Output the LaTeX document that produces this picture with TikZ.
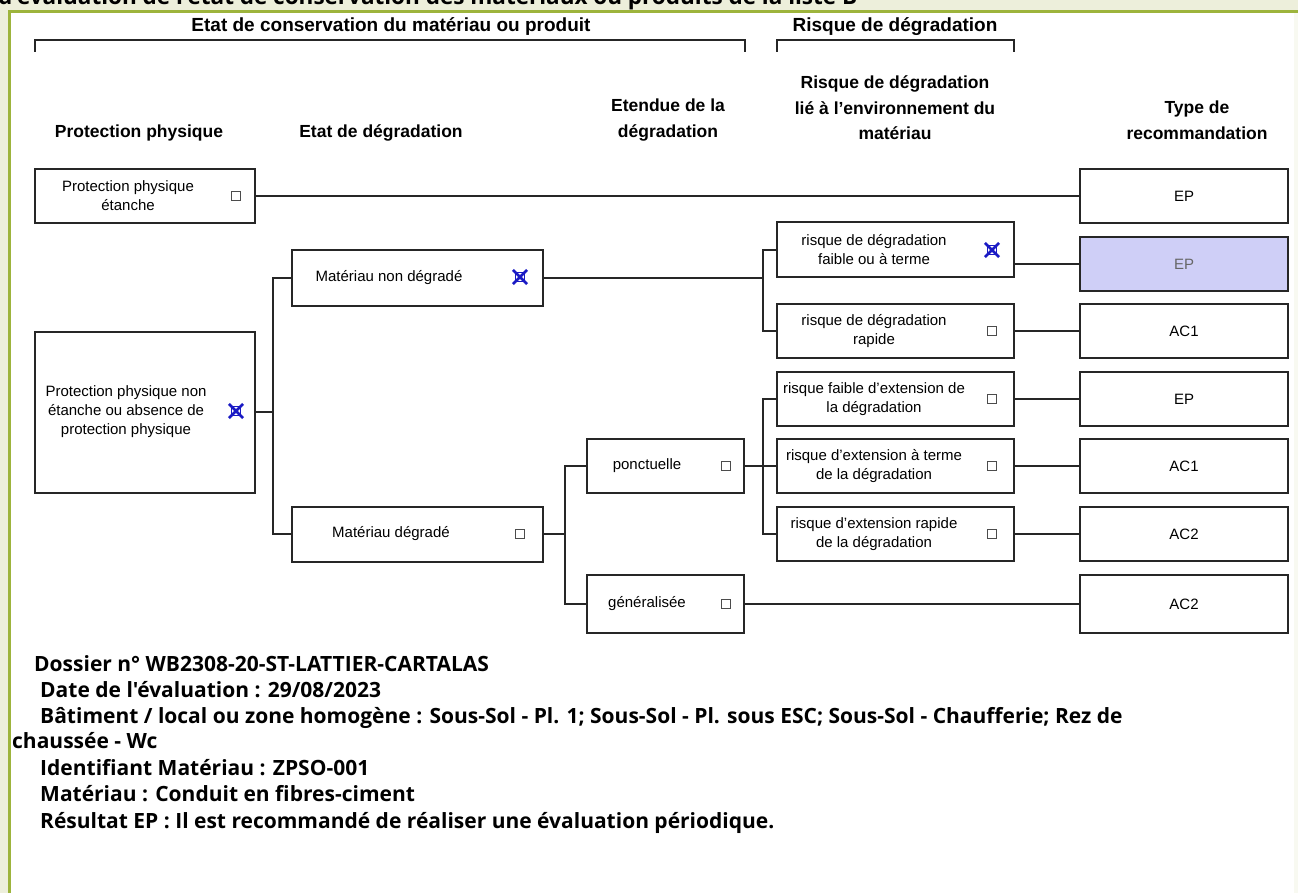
\documentclass[tikz,border=0pt]{standalone}
\usepackage{fontspec}
\setmainfont{Liberation Sans}
\newfontfamily\notefont{Open Sans}
\definecolor{pagebeige}{HTML}{EDEFDB}
\definecolor{framegreen}{HTML}{9DB43C}
\definecolor{pickfill}{HTML}{CFCFF7}
\definecolor{tickblue}{HTML}{1A1AC4}
\tikzset{
  choice/.style = {draw=black!85, line width=2pt, fill=white, inner sep=0pt},
  lbl/.style = {font=\fontsize{15}{19}\selectfont, align=center},
  hdr/.style = {font=\bfseries\fontsize{17.5}{25.5}\selectfont, align=center},
  title/.style = {font=\bfseries\fontsize{19}{22}\selectfont},
  note/.style = {font=\notefont\bfseries\fontsize{21}{24}\selectfont, inner sep=0pt},
  cbox/.style = {draw=black!70, fill=white, line width=1.2pt, minimum size=9pt, inner sep=0pt},
  cboxon/.style = {cbox, draw=tickblue},
  xmark/.style = {draw=tickblue, line width=2.8pt},
  link/.style = {line width=2pt, draw=black!85},
}
% blue cross over a ticked box
\newcommand{\xmark}[1]{\draw[xmark] ([shift={(-2,2)}]#1.south west) -- ([shift={(2,-2)}]#1.north east)
  ([shift={(-2,-2)}]#1.north west) -- ([shift={(2,2)}]#1.south east);}
\begin{document}
\begin{tikzpicture}[x=1pt, y=-1pt]
\useasboundingbox (0,0) rectangle (1298,893);
% frame
\fill[pagebeige] (0,0) rectangle (1298,893);
\fill[white] (11,13) rectangle (1298,893);
\fill[pagebeige!40] (1294,13) rectangle (1298,893);
\fill[framegreen] (8,10) rectangle (1298,13);
\fill[framegreen] (8,10) rectangle (11,893);
\begin{scope}
\clip (0,0) rectangle (1298,10);
\node[note, font=\notefont\bfseries\fontsize{22.5}{26}\selectfont, anchor=base west] (cuttitle) at (-2,5) {d'évaluation de l'état de conservation des matériaux ou produits de la liste B};
\end{scope}

% brackets
\node[title] (etat) at (391,27) {Etat de conservation du matériau ou produit};
\node[title] (risque) at (895,27) {Risque de dégradation};
\draw[link] (35,52) -- (35,40) -- (745,40) -- (745,52);
\draw[link] (777,52) -- (777,40) -- (1014,40) -- (1014,52);

% column titles
\node[hdr] (h1) at (139,133) {Protection physique};
\node[hdr] (h2) at (381,133) {Etat de dégradation};
\node[hdr] (h3) at (668,120) {Etendue de la\\dégradation};
\node[hdr] (h4) at (895,108) {Risque de dégradation\\lié à l'environnement du\\matériau};
\node[hdr] (h5) at (1197,120) {Type de\\recommandation};

% protection physique
\node[choice, minimum width=220pt, minimum height=54pt] (ppet) at (145,196) {};
\node[lbl] (ppet-t) at (128,196) {Protection physique\\étanche};
\node[cbox] (ppet-c) at (236,196) {};
\node[choice, minimum width=220pt, minimum height=161pt] (ppne) at (145,412) {};
\node[lbl] (ppne-t) at (126,412) {Protection physique non\\étanche ou absence de\\protection physique};
\node[cboxon] (ppne-c) at (236,411) {};
\xmark{ppne-c}

% etat de degradation
\node[choice, minimum width=251pt, minimum height=55pt] (matnd) at (417.5,278) {};
\node[lbl] (matnd-t) at (389,278) {Matériau non dégradé};
\node[cboxon] (matnd-c) at (520,277) {};
\xmark{matnd-c}
\node[choice, minimum width=251pt, minimum height=55pt] (matd) at (417.5,534) {};
\node[lbl] (matd-t) at (391,534) {Matériau dégradé};
\node[cbox] (matd-c) at (520,534) {};

% etendue
\node[choice, minimum width=157pt, minimum height=54pt] (ponct) at (665.5,466) {};
\node[lbl] (ponct-t) at (647,466) {ponctuelle};
\node[cbox] (ponct-c) at (726,466) {};
\node[choice, minimum width=157pt, minimum height=58pt] (gener) at (665.5,604) {};
\node[lbl] (gener-t) at (647,604) {généralisée};
\node[cbox] (gener-c) at (726,604) {};

% risque
\node[choice, minimum width=237pt, minimum height=55pt] (rfaib) at (895.5,250) {};
\node[lbl] (rfaib-t) at (874,250) {risque de dégradation\\faible ou à terme};
\node[cboxon] (rfaib-c) at (992,250) {};
\xmark{rfaib-c}
\node[choice, minimum width=237pt, minimum height=54pt] (rrap) at (895.5,331) {};
\node[lbl] (rrap-t) at (874,331) {risque de dégradation\\rapide};
\node[cbox] (rrap-c) at (992,331) {};
\node[choice, minimum width=237pt, minimum height=54pt] (xfaib) at (895.5,399) {};
\node[lbl] (xfaib-t) at (874,399) {risque faible d'extension de\\la dégradation};
\node[cbox] (xfaib-c) at (992,399) {};
\node[choice, minimum width=237pt, minimum height=54pt] (xterm) at (895.5,466) {};
\node[lbl] (xterm-t) at (874,466) {risque d'extension à terme\\de la dégradation};
\node[cbox] (xterm-c) at (992,466) {};
\node[choice, minimum width=237pt, minimum height=54pt] (xrap) at (895.5,534) {};
\node[lbl] (xrap-t) at (874,534) {risque d'extension rapide\\de la dégradation};
\node[cbox] (xrap-c) at (992,534) {};

% type de recommandation
\node[choice, lbl, minimum width=208pt, minimum height=54pt] (ep1) at (1184,196) {EP};
\node[choice, lbl, fill=pickfill, text=black!60, minimum width=208pt, minimum height=54pt] (ep2) at (1184,264) {EP};
\node[choice, lbl, minimum width=208pt, minimum height=54pt] (ac1a) at (1184,331) {AC1};
\node[choice, lbl, minimum width=208pt, minimum height=54pt] (ep3) at (1184,399) {EP};
\node[choice, lbl, minimum width=208pt, minimum height=54pt] (ac1b) at (1184,466) {AC1};
\node[choice, lbl, minimum width=208pt, minimum height=54pt] (ac2a) at (1184,534) {AC2};
\node[choice, lbl, minimum width=208pt, minimum height=58pt] (ac2b) at (1184,604) {AC2};

% connectors
\coordinate (j1) at (273,412);
\coordinate (j2) at (763,278);
\coordinate (j3) at (565,534);
\coordinate (j4) at (763,466);
\draw[link] (ppet) -- (ep1);
\draw[link] (ppne) -- (j1);
\draw[link] (matnd.west) -| (j1) |- (matd.west);
\draw[link] (matnd) -- (j2);
\draw[link] (rfaib.west) -| (j2) |- (rrap.west);
\draw[link] (rfaib.east |- ep2.west) -- (ep2.west);
\draw[link] (rrap) -- (ac1a);
\draw[link] (matd) -- (j3);
\draw[link] (ponct.west) -| (j3) |- (gener.west);
\draw[link] (ponct) -- (xterm);
\draw[link] (xfaib.west) -| (j4) |- (xrap.west);
\draw[link] (xfaib) -- (ep3);
\draw[link] (xterm) -- (ac1b);
\draw[link] (xrap) -- (ac2a);
\draw[link] (gener) -- (ac2b);

% dossier
\node[note, anchor=base west] (n1) at (34,671) {Dossier n° WB2308-20-ST-LATTIER-CARTALAS};
\node[note, anchor=base west] (n2) at (40,697) {Date de l'évaluation : 29/08/2023};
\node[note, anchor=base west] (n3) at (40,723) {Bâtiment / local ou zone homogène : Sous-Sol - Pl. 1; Sous-Sol - Pl. sous ESC; Sous-Sol - Chaufferie; Rez de};
\node[note, anchor=base west] (n4) at (12,748) {chaussée - Wc};
\node[note, anchor=base west] (n5) at (40,775) {Identifiant Matériau : ZPSO-001};
\node[note, anchor=base west] (n6) at (40,801) {Matériau : Conduit en fibres-ciment};
\node[note, anchor=base west] (n7) at (40,828) {Résultat EP : Il est recommandé de réaliser une évaluation périodique.};
\end{tikzpicture}
\end{document}
